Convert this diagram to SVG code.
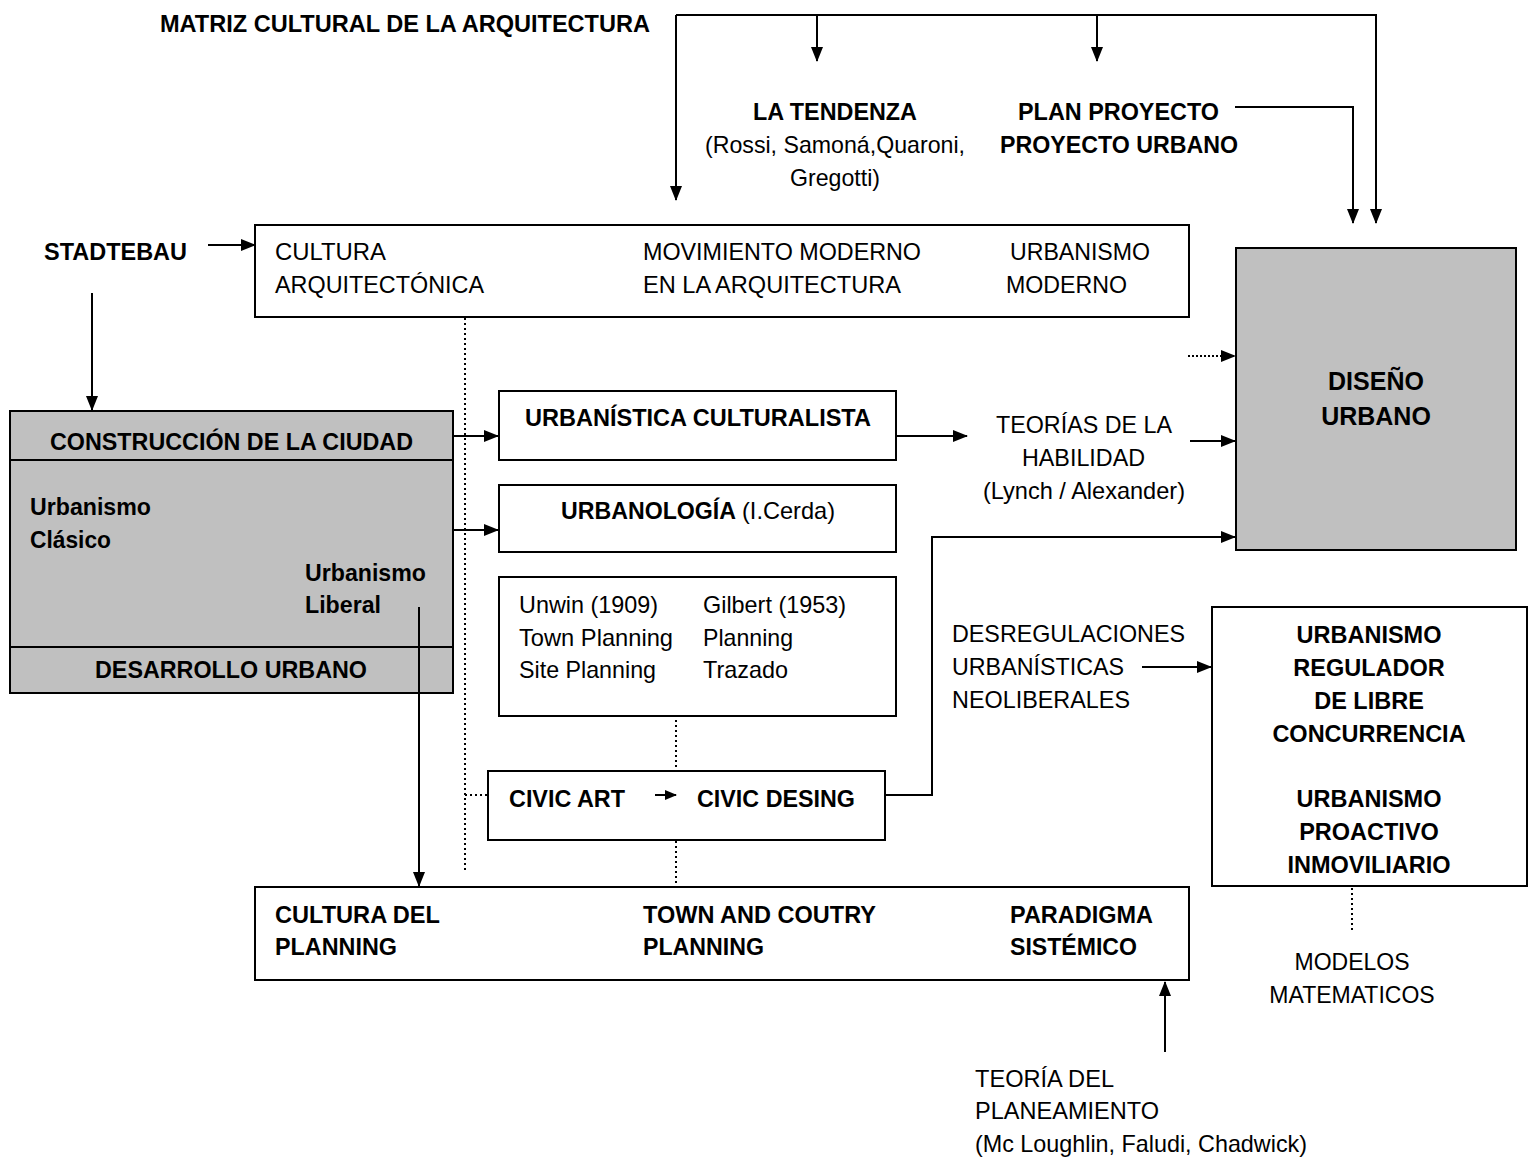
<svg xmlns="http://www.w3.org/2000/svg" width="1530" height="1160" viewBox="0 0 1530 1160">
<defs>
<marker id="ah" markerUnits="userSpaceOnUse" markerWidth="15" markerHeight="12" refX="14" refY="6" orient="auto">
<path d="M0,0 L15,6 L0,12 Z" fill="#000"/>
</marker>
<marker id="ahs" markerUnits="userSpaceOnUse" markerWidth="12" markerHeight="10" refX="11" refY="5" orient="auto">
<path d="M0,0 L12,5 L0,10 Z" fill="#000"/>
</marker>
<style>
.t{font-family:"Liberation Sans",Arial,sans-serif;font-size:24px;fill:#000}
.b{font-weight:bold}
.w{font-family:"Liberation Sans",Arial,sans-serif;fill:#000;font-weight:bold;text-anchor:middle}
.n{font-weight:normal}
.box{fill:#fff;stroke:#000;stroke-width:2}
.gray{fill:#c0c0c0;stroke:#000;stroke-width:2}
.c{fill:none;stroke:#000;stroke-width:2}
.d{fill:none;stroke:#000;stroke-width:2;stroke-dasharray:2,3}
</style>
</defs>
<rect width="1530" height="1160" fill="#fff"/>

<g id="title">
<text class="t b" x="160" y="32" textLength="490" lengthAdjust="spacingAndGlyphs">MATRIZ CULTURAL DE LA ARQUITECTURA</text>
</g>

<g id="tendenza">
<text class="t b" x="753" y="120" textLength="164" lengthAdjust="spacingAndGlyphs">LA TENDENZA</text>
<text class="t" x="705" y="153" textLength="260" lengthAdjust="spacingAndGlyphs">(Rossi, Samoná,Quaroni,</text>
<text class="t" x="790" y="186" textLength="90" lengthAdjust="spacingAndGlyphs">Gregotti)</text>
</g>

<g id="plan-proyecto">
<text class="t b" x="1018" y="120" textLength="201" lengthAdjust="spacingAndGlyphs">PLAN PROYECTO</text>
<text class="t b" x="1000" y="153" textLength="238" lengthAdjust="spacingAndGlyphs">PROYECTO URBANO</text>
</g>

<g id="stadtebau">
<text class="t b" x="44" y="260" textLength="143" lengthAdjust="spacingAndGlyphs">STADTEBAU</text>
</g>

<g id="cultura-arquitectonica">
<rect class="box" x="255" y="225" width="934" height="92"/>
<text class="t" x="275" y="260" textLength="111" lengthAdjust="spacingAndGlyphs">CULTURA</text>
<text class="t" x="275" y="293" textLength="209" lengthAdjust="spacingAndGlyphs">ARQUITECTÓNICA</text>
<text class="t" x="643" y="260" textLength="278" lengthAdjust="spacingAndGlyphs">MOVIMIENTO MODERNO</text>
<text class="t" x="643" y="293" textLength="258" lengthAdjust="spacingAndGlyphs">EN LA ARQUITECTURA</text>
<text class="t" x="1010" y="260" textLength="140" lengthAdjust="spacingAndGlyphs">URBANISMO</text>
<text class="t" x="1006" y="293" textLength="121" lengthAdjust="spacingAndGlyphs">MODERNO</text>
</g>

<g id="construccion-ciudad">
<rect class="gray" x="10" y="411" width="443" height="282"/>
<path class="c" d="M10,460 H453 M10,647 H453"/>
<text class="t b" x="50" y="450" textLength="363" lengthAdjust="spacingAndGlyphs">CONSTRUCCIÓN DE LA CIUDAD</text>
<text class="t b" x="30" y="515" textLength="121" lengthAdjust="spacingAndGlyphs">Urbanismo</text>
<text class="t b" x="30" y="548" textLength="81" lengthAdjust="spacingAndGlyphs">Clásico</text>
<text class="t b" x="305" y="581" textLength="121" lengthAdjust="spacingAndGlyphs">Urbanismo</text>
<text class="t b" x="305" y="613" textLength="76" lengthAdjust="spacingAndGlyphs">Liberal</text>
<text class="t b" x="95" y="678" textLength="272" lengthAdjust="spacingAndGlyphs">DESARROLLO URBANO</text>
</g>

<g id="urbanistica-culturalista">
<rect class="box" x="499" y="391" width="397" height="69"/>
<text class="t b" x="525" y="426" textLength="346" lengthAdjust="spacingAndGlyphs">URBANÍSTICA CULTURALISTA</text>
</g>

<g id="urbanologia">
<rect class="box" x="499" y="485" width="397" height="67"/>
<text class="t b" x="561" y="519" textLength="175" lengthAdjust="spacingAndGlyphs">URBANOLOGÍA</text>
<text class="t" x="742" y="519" textLength="93" lengthAdjust="spacingAndGlyphs">(I.Cerda)</text>
</g>

<g id="unwin-gilbert">
<rect class="box" x="499" y="577" width="397" height="139"/>
<text class="t" x="519" y="613" textLength="139" lengthAdjust="spacingAndGlyphs">Unwin (1909)</text>
<text class="t" x="519" y="646" textLength="154" lengthAdjust="spacingAndGlyphs">Town Planning</text>
<text class="t" x="519" y="678" textLength="137" lengthAdjust="spacingAndGlyphs">Site Planning</text>
<text class="t" x="703" y="613" textLength="143" lengthAdjust="spacingAndGlyphs">Gilbert (1953)</text>
<text class="t" x="703" y="646" textLength="90" lengthAdjust="spacingAndGlyphs">Planning</text>
<text class="t" x="703" y="678" textLength="85" lengthAdjust="spacingAndGlyphs">Trazado</text>
</g>

<g id="civic">
<rect class="box" x="488" y="771" width="397" height="69"/>
<text class="t b" x="509" y="807" textLength="116" lengthAdjust="spacingAndGlyphs">CIVIC ART</text>
<text class="t b" x="697" y="807" textLength="158" lengthAdjust="spacingAndGlyphs">CIVIC DESING</text>
</g>

<g id="teorias-habilidad">
<text class="t" x="996" y="433" textLength="176" lengthAdjust="spacingAndGlyphs">TEORÍAS DE LA</text>
<text class="t" x="1022" y="466" textLength="123" lengthAdjust="spacingAndGlyphs">HABILIDAD</text>
<text class="t" x="983" y="499" textLength="202" lengthAdjust="spacingAndGlyphs">(Lynch / Alexander)</text>
</g>

<g id="diseno-urbano">
<rect class="gray" x="1236" y="248" width="280" height="302"/>
<text class="w" x="1376" y="390" font-size="25">DISEÑO</text>
<text class="w" x="1376" y="425" font-size="25">URBANO</text>
</g>

<g id="desregulaciones">
<text class="t" x="952" y="642" textLength="233" lengthAdjust="spacingAndGlyphs">DESREGULACIONES</text>
<text class="t" x="952" y="675" textLength="172" lengthAdjust="spacingAndGlyphs">URBANÍSTICAS</text>
<text class="t" x="952" y="708" textLength="178" lengthAdjust="spacingAndGlyphs">NEOLIBERALES</text>
</g>

<g id="urbanismo-regulador">
<rect class="box" x="1212" y="607" width="315" height="279"/>
<text class="w" x="1369" y="643" font-size="23.5">URBANISMO</text>
<text class="w" x="1369" y="676" font-size="23.5">REGULADOR</text>
<text class="w" x="1369" y="709" font-size="23.5">DE LIBRE</text>
<text class="w" x="1369" y="742" font-size="23.5">CONCURRENCIA</text>
<text class="w" x="1369" y="807" font-size="23.5">URBANISMO</text>
<text class="w" x="1369" y="840" font-size="23.5">PROACTIVO</text>
<text class="w" x="1369" y="873" font-size="23.5">INMOVILIARIO</text>
</g>

<g id="modelos-matematicos">
<text class="w n" x="1352" y="970" font-size="23">MODELOS</text>
<text class="w n" x="1352" y="1003" font-size="23">MATEMATICOS</text>
</g>

<g id="cultura-planning">
<rect class="box" x="255" y="887" width="934" height="93"/>
<text class="t b" x="275" y="923" textLength="165" lengthAdjust="spacingAndGlyphs">CULTURA DEL</text>
<text class="t b" x="275" y="955" textLength="122" lengthAdjust="spacingAndGlyphs">PLANNING</text>
<text class="t b" x="643" y="923" textLength="233" lengthAdjust="spacingAndGlyphs">TOWN AND COUTRY</text>
<text class="t b" x="643" y="955" textLength="121" lengthAdjust="spacingAndGlyphs">PLANNING</text>
<text class="t b" x="1010" y="923" textLength="143" lengthAdjust="spacingAndGlyphs">PARADIGMA</text>
<text class="t b" x="1010" y="955" textLength="127" lengthAdjust="spacingAndGlyphs">SISTÉMICO</text>
</g>

<g id="teoria-planeamiento">
<text class="t" x="975" y="1087" textLength="139" lengthAdjust="spacingAndGlyphs">TEORÍA DEL</text>
<text class="t" x="975" y="1119" textLength="184" lengthAdjust="spacingAndGlyphs">PLANEAMIENTO</text>
<text class="t" x="975" y="1152" textLength="332" lengthAdjust="spacingAndGlyphs">(Mc Loughlin, Faludi, Chadwick)</text>
</g>

<g id="connectors">
<path class="c" d="M676,15 H1376 V223" marker-end="url(#ah)"/>
<path class="c" d="M676,15 V200" marker-end="url(#ah)"/>
<path class="c" d="M817,15 V61" marker-end="url(#ah)"/>
<path class="c" d="M1097,15 V61" marker-end="url(#ah)"/>
<path class="c" d="M1235,107 H1353 V223" marker-end="url(#ah)"/>
<path class="c" d="M208,245 H255" marker-end="url(#ah)"/>
<path class="c" d="M92,293 V410" marker-end="url(#ah)"/>
<path class="c" d="M453,436 H498" marker-end="url(#ah)"/>
<path class="c" d="M453,530 H498" marker-end="url(#ah)"/>
<path class="c" d="M419,607 V886" marker-end="url(#ah)"/>
<path class="d" d="M465,318 V870"/>
<path class="d" d="M465,795 H488"/>
<path class="d" d="M676,720 V770"/>
<path class="d" d="M676,841 V886"/>
<path class="c" d="M896,436 H967" marker-end="url(#ah)"/>
<path class="c" d="M1190,441 H1235" marker-end="url(#ah)"/>
<path class="c" d="M1188,356 H1235" stroke-width="1.5" stroke-dasharray="2,2" marker-end="url(#ah)"/>
<path class="c" d="M885,795 H932 V537 H1235" marker-end="url(#ah)"/>
<path class="c" d="M655,795 H676" marker-end="url(#ahs)"/>
<path class="c" d="M1142,667 H1211" marker-end="url(#ah)"/>
<path class="d" d="M1352,888 V932" stroke-width="1.5"/>
<path class="c" d="M1165,1052 V982" marker-end="url(#ah)"/>
</g>
</svg>
